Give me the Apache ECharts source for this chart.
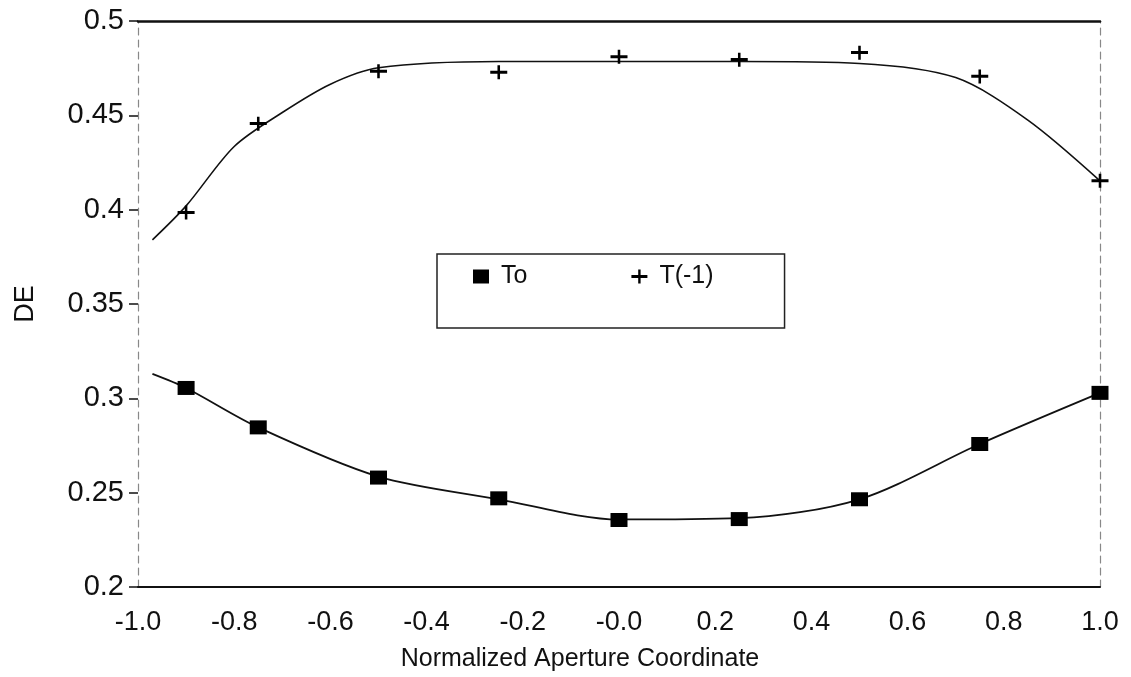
<!DOCTYPE html>
<html>
<head>
<meta charset="utf-8">
<script src="https://cdn.jsdelivr.net/npm/echarts@6/dist/echarts.min.js"></script>
<style>
  html, body { margin: 0; padding: 0; background: #fff; }
  #chart { width: 1131px; height: 677px; }
</style>
</head>
<body>
<div id="chart"></div>
<script>
// Measured diffraction efficiency across the aperture
const apertureX = [-0.9, -0.75, -0.5, -0.25, 0, 0.25, 0.5, 0.75, 1.0];
const deTo      = [0.3055, 0.2846, 0.258, 0.247, 0.2355, 0.236, 0.2465, 0.2758, 0.3029];
const deTm1     = [0.3985, 0.4456, 0.4733, 0.4728, 0.481, 0.4795, 0.4832, 0.4706, 0.4153];

// Fitted curves (x, DE)
const fitToX  = [-0.97, -0.9, -0.75, -0.5, -0.25, 0, 0.25, 0.5, 0.75, 1.0];
const fitToY  = [0.313, 0.3055, 0.2846, 0.2585, 0.2465, 0.2358, 0.2365, 0.2465, 0.2758, 0.3029];
const fitTm1X = [-0.97, -0.9, -0.8, -0.7, -0.6, -0.5, -0.25, 0, 0.25, 0.5, 0.7, 0.85, 1.0];
const fitTm1Y = [0.384, 0.402, 0.4335, 0.4515, 0.4665, 0.4752, 0.4785, 0.4785, 0.4785, 0.4775, 0.470, 0.4475, 0.4153];

// Tick labels
const xTickLabels = ['-1.0', '-0.8', '-0.6', '-0.4', '-0.2', '-0.0', '0.2', '0.4', '0.6', '0.8', '1.0'];
const yTickLabels = ['0.2', '0.25', '0.3', '0.35', '0.4', '0.45', '0.5'];

const seriesNames = ['To', 'T(-1)'];
const plusPath = 'path://M0,5.4 L6.8,5.4 L6.8,0 L9.2,0 L9.2,5.4 L16,5.4 L16,8.4 L9.2,8.4 L9.2,14 L6.8,14 L6.8,8.4 L0,8.4 Z';

const pair = (xs, ys) => xs.map((x, i) => [x, ys[i]]);
const FONT = 'Liberation Sans, Arial, sans-serif';
const INK = '#111';

const chart = echarts.init(document.getElementById('chart'), null, { renderer: 'canvas' });

chart.setOption({
  backgroundColor: '#ffffff',
  animation: false,
  textStyle: { fontFamily: FONT, color: INK },
  grid: { left: 138, right: 31, top: 21, bottom: 82, containLabel: false },
  legend: {
    left: 437,
    top: 254,
    orient: 'horizontal',
    padding: [10, 71, 39, 36],
    itemGap: 104,
    itemWidth: 16,
    itemHeight: 14,
    borderColor: '#222',
    borderWidth: 1.5,
    borderRadius: 0,
    textStyle: { fontFamily: FONT, fontSize: 25, color: INK, padding: [0, 0, 0, 7] },
    data: [
      { name: seriesNames[0], icon: 'rect' },
      { name: seriesNames[1], icon: plusPath }
    ]
  },
  visualMap: {
    show: false,
    type: 'piecewise',
    seriesIndex: 1,
    dimension: 0,
    pieces: [
      { lt: -0.56, color: '#777' },
      { gte: -0.56, lte: 0.71, color: '#111' },
      { gt: 0.71, color: '#666' }
    ]
  },
  xAxis: [
    {
      type: 'value',
      min: -1.0,
      max: 1.0,
      interval: 0.2,
      position: 'bottom',
      name: 'Normalized Aperture Coordinate',
      nameLocation: 'middle',
      nameGap: 60,
      nameTextStyle: { fontFamily: FONT, fontSize: 25, color: INK, padding: [0, 78, 0, 0] },
      axisLine: { show: true, onZero: false, lineStyle: { color: INK, width: 2 } },
      axisTick: { show: false },
      splitLine: { show: false },
      axisLabel: {
        fontFamily: FONT,
        fontSize: 27,
        color: INK,
        margin: 22,
        formatter: (v) => xTickLabels[Math.round((v + 1) / 0.2)]
      }
    },
    {
      type: 'value',
      min: -1.0,
      max: 1.0,
      position: 'top',
      axisLine: { show: true, onZero: false, lineStyle: { color: INK, width: 2.5 } },
      axisTick: { show: false },
      axisLabel: { show: false },
      splitLine: { show: false }
    }
  ],
  yAxis: [
    {
      type: 'value',
      min: 0.2,
      max: 0.5,
      interval: 0.05,
      position: 'left',
      name: 'DE',
      nameLocation: 'middle',
      nameGap: 99,
      nameRotate: 90,
      nameTextStyle: { fontFamily: FONT, fontSize: 27, color: INK },
      axisLine: { show: true, onZero: false, lineStyle: { color: '#888', width: 1.2, type: [7, 5] } },
      axisTick: { show: true, inside: false, length: 9, lineStyle: { color: INK, width: 1.5 } },
      splitLine: { show: false },
      axisLabel: {
        fontFamily: FONT,
        fontSize: 29,
        color: INK,
        margin: 14,
        formatter: (v) => yTickLabels[Math.round((v - 0.2) / 0.05)]
      }
    },
    {
      type: 'value',
      min: 0.2,
      max: 0.5,
      position: 'right',
      axisLine: { show: true, onZero: false, lineStyle: { color: '#888', width: 1.2, type: [7, 5] } },
      axisTick: { show: false },
      axisLabel: { show: false },
      splitLine: { show: false }
    }
  ],
  series: [
    {
      name: 'To fit',
      type: 'line',
      data: pair(fitToX, fitToY),
      smooth: 0.3,
      showSymbol: false,
      symbol: 'none',
      lineStyle: { color: INK, width: 1.8 },
      z: 2,
      silent: true
    },
    {
      name: 'T(-1) fit',
      type: 'line',
      data: pair(fitTm1X, fitTm1Y),
      smooth: 0.3,
      showSymbol: false,
      symbol: 'none',
      lineStyle: { color: INK, width: 1.6 },
      z: 2,
      silent: true
    },
    {
      name: seriesNames[0],
      type: 'scatter',
      data: pair(apertureX, deTo),
      symbol: 'rect',
      symbolSize: [17, 14],
      itemStyle: { color: '#000', opacity: 1 },
      z: 3
    },
    {
      name: seriesNames[1],
      type: 'scatter',
      data: pair(apertureX, deTm1),
      symbol: plusPath,
      symbolSize: [17, 14],
      itemStyle: { color: '#000', opacity: 1 },
      z: 3
    }
  ]
});
</script>
</body>
</html>
